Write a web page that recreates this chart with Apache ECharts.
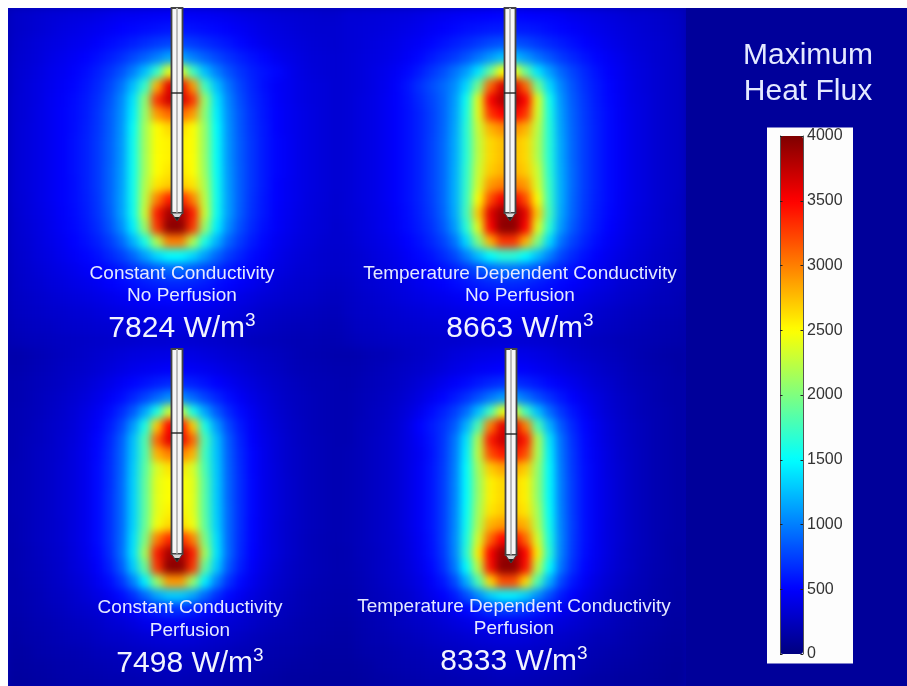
<!DOCTYPE html>
<html lang="en">
<head>
<meta charset="UTF-8">
<title>Maximum Heat Flux</title>
<script src="https://cdn.jsdelivr.net/npm/echarts@6/dist/echarts.min.js"></script>
<style>
  html, body { margin: 0; padding: 0; background: #fff; }
  #clip { position: absolute; left: 8px; top: 8px; width: 899px; height: 678px; overflow: hidden; }
  #heat { position: absolute; left: -8px; top: -8px; width: 930px; height: 720px; filter: blur(4.5px); }
  #front { position: absolute; left: 0; top: 0; width: 907px; height: 686px; }
</style>
</head>
<body>
<div id="clip"><div id="heat"></div></div>
<div id="front"></div>
<script>
// heat flux, one row per 14px, top row first
var heatTL = [
[280,300,320,340,350,370,380,400,420,440,450,460,470,480,480,470,460,450,430,410,390,370,350,340,330,320,310,310],
[280,300,330,350,380,400,420,440,470,500,520,540,560,580,580,560,540,520,490,460,430,400,380,360,340,330,320,320],
[290,320,350,380,400,430,450,490,530,570,620,670,720,760,760,720,670,620,570,520,470,430,400,380,360,340,330,320],
[300,330,360,400,430,460,500,550,610,680,780,880,1000,1150,1150,1000,880,780,690,620,560,510,450,410,380,350,340,330],
[310,340,380,420,450,490,540,610,700,820,1000,1250,1700,2400,2400,1750,1250,1000,820,700,620,560,520,440,390,360,340,330],
[310,350,390,430,470,510,570,650,770,950,1250,1700,2800,3600,3600,2900,1750,1250,950,760,640,550,480,440,400,370,350,330],
[320,350,390,440,480,530,590,680,820,1030,1400,2050,3300,3700,3700,3300,2100,1400,1020,800,660,570,490,440,400,370,350,330],
[320,350,400,440,490,540,600,700,850,1060,1450,2100,2900,3100,3100,2900,2050,1450,1050,830,680,580,500,450,410,380,350,330],
[320,360,400,440,490,540,610,710,860,1080,1520,2150,2500,2650,2650,2500,2100,1500,1070,840,690,590,500,450,410,380,350,330],
[320,360,400,440,490,550,620,720,870,1090,1550,2150,2500,2550,2550,2500,2100,1520,1080,850,700,590,510,460,410,380,350,330],
[320,360,400,440,490,550,620,720,870,1090,1550,2150,2500,2550,2550,2500,2100,1520,1080,850,700,590,510,460,410,380,350,330],
[320,360,400,440,490,550,620,720,880,1100,1550,2150,2500,2600,2600,2500,2120,1530,1090,860,700,590,510,460,410,380,350,330],
[320,360,400,440,490,540,620,720,880,1110,1560,2200,2600,2700,2700,2600,2180,1550,1100,860,700,590,500,450,410,380,350,330],
[320,350,400,440,490,540,610,710,880,1120,1560,2250,3000,3400,3400,3000,2250,1560,1110,860,690,580,500,450,410,370,350,320],
[310,350,390,430,480,530,600,700,860,1120,1550,2300,3400,3850,3850,3400,2300,1550,1110,850,680,580,490,440,400,370,340,320],
[300,340,380,420,470,520,580,670,820,1050,1450,2100,3300,3950,3950,3300,2100,1450,1040,800,650,550,480,430,390,360,340,310],
[300,330,370,410,450,500,550,620,730,900,1200,1600,2200,3000,3000,2200,1600,1200,890,720,600,520,450,410,370,350,320,310],
[290,320,360,390,430,470,510,560,640,740,900,1120,1350,1500,1500,1350,1120,900,730,630,540,480,420,380,350,330,310,300],
[280,310,340,370,400,430,470,500,540,600,680,760,840,900,900,840,760,680,590,530,480,430,390,360,330,320,300,290],
[270,300,320,350,370,400,420,450,490,520,560,600,630,650,650,630,600,550,510,470,430,390,350,330,310,300,280,270],
[260,280,300,320,340,360,380,400,420,450,470,490,510,520,520,500,480,460,430,400,370,340,320,300,290,280,260,250],
[250,270,280,300,310,330,340,360,380,390,410,420,430,440,440,420,410,390,370,350,330,300,280,270,260,250,240,230],
[230,250,260,270,290,300,310,320,330,340,350,360,370,380,380,360,350,340,320,300,290,270,250,240,230,230,220,210],
[210,230,240,250,260,270,280,290,300,300,310,320,320,330,330,320,310,300,280,270,250,240,230,220,210,210,200,200]
];
var heatTR = [
[340,340,350,360,370,380,400,420,440,460,480,490,500,510,510,500,490,480,460,430,410,390,370,350,330,320,300,280,260],
[340,350,360,370,390,410,430,460,490,520,550,570,590,600,600,590,570,540,510,480,450,420,400,370,350,330,310,290,270],
[340,350,370,390,410,440,470,510,560,610,660,720,780,820,820,770,710,650,600,550,500,460,420,390,360,340,320,300,270],
[340,360,380,400,430,470,520,590,660,730,830,960,1100,1250,1250,1100,950,830,720,640,570,510,460,420,380,350,320,300,280],
[340,360,390,420,460,520,600,700,800,950,1120,1400,1900,2500,2500,1900,1400,1120,900,760,650,560,490,440,390,360,330,300,280],
[340,360,390,430,480,570,680,790,900,1050,1350,1950,3100,3650,3650,3100,1950,1350,1020,820,680,590,510,450,400,360,330,300,280],
[340,370,400,440,490,560,650,760,880,1100,1550,2400,3500,3800,3800,3500,2400,1550,1080,850,710,600,520,460,400,370,330,300,280],
[340,370,400,440,490,550,630,740,880,1120,1600,2400,3300,3500,3500,3300,2350,1600,1110,870,720,610,530,460,410,370,330,300,280],
[340,370,400,440,490,550,630,740,890,1140,1650,2300,2800,2950,2950,2800,2250,1630,1130,880,730,620,530,470,410,370,330,300,280],
[340,370,400,440,490,550,630,750,900,1160,1650,2250,2650,2750,2750,2650,2200,1640,1150,890,730,620,530,470,410,370,330,300,280],
[340,370,400,440,490,550,630,750,900,1160,1650,2250,2650,2750,2750,2650,2200,1640,1150,890,730,620,530,470,410,370,330,300,280],
[340,370,400,440,490,550,630,750,900,1170,1680,2300,2700,2800,2800,2700,2300,1660,1160,900,730,620,530,470,410,370,330,300,280],
[340,370,400,440,490,550,630,750,900,1180,1700,2350,2900,3000,3000,2900,2350,1700,1170,900,730,620,530,470,410,370,330,300,280],
[340,370,400,440,490,550,630,740,900,1180,1720,2500,3200,3550,3550,3200,2500,1720,1170,890,720,610,530,460,410,370,330,300,270],
[340,360,400,430,480,540,620,720,880,1160,1750,2700,3600,3900,3900,3600,2700,1750,1150,880,710,600,520,460,400,360,330,290,270],
[330,360,390,430,470,530,600,690,840,1100,1650,2400,3500,3950,3950,3500,2400,1650,1090,840,680,580,500,440,390,350,320,290,270],
[320,350,380,410,450,500,560,640,750,950,1350,2000,2800,3300,3300,2800,2000,1350,940,750,630,540,470,420,370,340,310,280,260],
[310,330,360,390,420,470,520,570,660,780,1000,1250,1500,1650,1650,1500,1250,1000,780,650,560,490,430,390,350,320,290,270,250],
[300,320,340,370,400,440,470,510,560,620,710,800,880,940,940,880,800,710,620,550,490,440,400,360,330,300,280,260,240],
[280,310,330,350,370,400,430,460,490,530,570,610,640,660,660,640,600,560,520,480,440,400,370,330,310,290,260,240,230],
[270,290,310,330,350,370,390,410,430,450,480,500,510,530,530,510,490,470,440,410,380,350,330,300,280,260,240,230,210],
[260,280,290,310,320,340,350,370,380,400,410,430,440,450,450,430,420,400,380,360,340,310,290,270,250,240,220,210,200],
[240,260,270,280,300,310,320,330,340,350,360,370,380,390,390,370,360,350,330,310,300,280,260,250,230,220,200,190,180],
[220,240,250,260,270,280,290,300,310,310,320,330,330,340,340,330,320,310,290,280,260,250,240,220,210,200,190,180,170]
];
var heatBL = [
[170,190,210,230,250,270,290,310,330,350,370,380,390,400,400,390,370,350,330,310,290,270,250,230,210,200,190,180],
[180,200,220,240,260,280,300,330,360,390,420,440,460,480,480,460,440,410,380,350,320,290,270,240,220,210,200,190],
[190,210,230,250,270,300,330,370,410,460,510,560,610,650,650,610,560,500,450,400,360,320,290,260,240,220,210,200],
[190,210,240,260,290,320,360,410,470,540,640,760,900,1050,1050,900,760,640,540,460,400,350,310,270,250,230,210,200],
[200,220,240,270,300,340,390,450,540,660,850,1150,1600,2300,2300,1600,1150,850,650,530,440,370,320,280,250,230,210,200],
[200,220,250,280,310,350,410,480,600,770,1100,1600,2700,3500,3500,2700,1600,1100,770,590,470,390,340,290,260,230,210,200],
[200,230,250,280,320,360,420,510,640,860,1250,1800,3100,3600,3600,3100,1800,1250,850,630,490,410,350,300,260,240,220,200],
[200,230,260,290,320,370,430,520,660,880,1270,1800,2800,3000,3000,2800,1750,1270,870,650,510,420,350,300,270,240,220,200],
[210,230,260,290,330,370,430,530,670,890,1300,1850,2350,2600,2600,2350,1800,1290,880,660,510,420,360,300,270,240,220,200],
[210,230,260,290,330,370,430,530,670,900,1320,1880,2400,2500,2500,2400,1850,1300,890,670,520,420,360,310,270,240,220,200],
[210,230,260,290,330,370,430,530,680,900,1320,1880,2400,2500,2500,2400,1850,1300,890,670,520,420,360,310,270,240,220,200],
[210,230,260,290,330,370,430,530,680,900,1320,1880,2400,2550,2550,2400,1860,1310,900,670,520,420,360,310,270,240,220,200],
[200,230,260,290,320,370,430,530,680,900,1330,1900,2450,2650,2650,2450,1880,1320,900,670,510,420,350,300,270,240,220,200],
[200,230,260,290,320,370,430,530,680,910,1380,2000,3000,3350,3350,3000,2000,1380,900,660,510,410,350,300,260,230,210,200],
[190,220,250,280,310,360,420,510,660,920,1400,2150,3400,3850,3850,3400,2150,1400,910,650,500,410,350,300,260,230,210,190],
[190,220,240,270,300,350,400,480,620,850,1300,1900,3300,3950,3950,3300,1900,1300,840,610,470,390,330,280,250,230,210,190],
[180,210,230,260,290,330,370,440,540,700,1000,1450,2100,2900,2900,2100,1450,1000,690,530,430,360,310,270,240,220,200,190],
[180,200,220,250,270,300,340,390,450,540,680,900,1150,1300,1300,1150,900,680,530,440,380,330,280,250,220,200,190,180],
[170,190,210,230,250,280,300,330,370,420,480,550,620,680,680,620,550,480,410,360,320,290,260,230,210,190,180,170],
[160,180,200,210,230,250,270,290,320,340,370,410,440,460,460,440,400,370,330,310,280,250,230,210,190,180,170,160],
[150,170,180,200,210,230,240,260,280,290,310,330,340,350,350,340,320,300,280,260,240,220,200,190,180,170,160,150],
[140,150,170,180,190,200,210,230,240,250,260,270,280,290,290,280,270,250,240,220,210,190,180,170,160,150,140,140],
[130,140,150,160,170,180,190,200,210,220,230,240,240,250,250,240,230,220,210,200,180,170,160,150,140,140,130,130],
[120,130,140,150,160,170,170,180,190,190,200,210,210,220,220,210,200,190,180,170,160,150,140,130,130,120,120,120]
];
var heatBR = [
[180,190,210,220,240,260,280,300,330,360,380,400,410,420,420,410,390,370,340,310,290,270,250,230,210,190,170,160,150],
[190,200,220,240,260,280,300,330,360,400,430,460,480,500,500,480,450,420,390,360,330,300,270,250,220,200,180,170,150],
[190,210,230,250,270,300,340,380,430,480,530,590,640,680,680,630,580,520,470,420,370,330,300,260,230,210,190,170,160],
[200,220,240,260,290,330,380,440,510,590,690,810,960,1100,1100,950,800,680,580,490,420,370,320,280,250,220,190,170,160],
[200,220,250,270,310,360,430,530,620,740,930,1250,1750,2400,2400,1750,1250,920,710,570,470,390,330,290,250,220,200,180,160],
[200,230,250,280,320,390,500,590,690,850,1200,1800,3000,3600,3600,3000,1800,1200,840,640,510,420,350,300,260,230,200,180,160],
[200,230,260,290,330,390,470,570,700,950,1400,2200,3400,3700,3700,3400,2200,1400,930,680,530,430,360,310,260,230,200,180,160],
[210,230,260,290,330,390,450,560,710,970,1450,2250,3200,3400,3400,3200,2200,1450,950,700,540,440,370,310,270,230,200,180,160],
[210,230,260,290,330,390,460,570,720,990,1500,2150,2700,2850,2850,2700,2100,1490,970,710,550,450,370,320,270,230,200,180,160],
[210,230,260,290,330,390,460,570,730,1000,1500,2100,2550,2650,2650,2550,2080,1490,980,720,550,450,380,320,270,230,200,180,160],
[210,230,260,290,330,390,460,570,730,1000,1500,2100,2550,2650,2650,2550,2080,1490,980,720,550,450,380,320,270,230,200,180,160],
[210,230,260,290,330,390,460,570,730,1010,1520,2150,2600,2700,2700,2600,2150,1510,990,720,550,450,380,320,270,230,200,180,160],
[210,230,260,290,330,390,460,570,730,1020,1550,2200,2800,2900,2900,2800,2200,1550,1000,730,550,450,370,320,270,230,200,180,160],
[210,230,260,290,320,380,450,560,730,1030,1600,2350,3100,3500,3500,3100,2350,1600,1010,720,550,440,370,320,270,230,200,170,160],
[200,230,250,280,320,370,440,550,710,1020,1650,2550,3500,3900,3900,3500,2550,1650,1000,710,540,440,370,310,260,230,200,170,150],
[200,220,250,280,310,360,420,520,670,960,1500,2250,3450,3950,3950,3450,2250,1500,940,670,510,420,350,300,260,220,190,170,150],
[190,210,240,270,300,340,390,470,580,780,1180,1800,2650,3200,3200,2650,1800,1180,770,580,460,380,320,280,240,210,180,160,150],
[180,200,230,250,280,310,360,420,490,600,800,1050,1300,1450,1450,1300,1050,800,600,480,400,340,290,250,220,200,170,160,140],
[170,190,210,230,260,290,320,350,400,450,520,600,680,730,730,680,600,520,440,390,340,300,270,240,210,190,160,150,140],
[160,180,200,220,240,260,280,300,330,360,390,430,460,480,480,460,420,380,350,320,290,260,240,210,190,170,160,140,130],
[150,170,190,200,220,230,250,270,290,300,320,340,350,360,360,350,330,310,290,270,250,220,210,190,170,160,140,130,120],
[140,160,170,180,190,210,220,240,250,260,270,280,290,300,300,290,280,260,250,230,210,200,180,170,160,140,130,120,110],
[130,140,150,170,180,190,200,210,220,230,240,240,250,260,260,250,240,230,210,200,190,170,160,150,140,130,120,110,100],
[120,130,140,150,160,170,180,190,190,200,210,210,220,230,230,220,210,200,190,180,160,150,140,130,120,120,110,100,100]
];

var colorStops = ['#00007f', '#0000ff', '#007fff', '#00ffff', '#7fff7f', '#ffff00', '#ff7f00', '#ff0000', '#7f0000'];

var panelTitles = ['Constant Conductivity', 'Temperature Dependent Conductivity', 'Constant Conductivity', 'Temperature Dependent Conductivity'];
var panelSubs = ['No Perfusion', 'No Perfusion', 'Perfusion', 'Perfusion'];
var panelPeaks = ['7824', '8663', '7498', '8333'];

var font = '"Liberation Sans", Arial, sans-serif';
var textWhite = '#e4e9ff';

// panel geometry [left, top, width, height]
var boxes = [[8, 8, 334, 340], [342, 8, 344, 340], [8, 348, 334, 340], [342, 348, 344, 340]];
var heats = [heatTL, heatTR, heatBL, heatBR];

function indexList(n) {
  var out = [];
  for (var i = 0; i < n; i++) out.push(i);
  return out;
}

var heatOption = {
  backgroundColor: '#0000b0',
  animation: false,
  grid: [], xAxis: [], yAxis: [], series: [],
  visualMap: { show: false, min: 0, max: 4000, inRange: { color: colorStops } }
};
heats.forEach(function (m, i) {
  var b = boxes[i], data = [];
  m.forEach(function (row, r) {
    row.forEach(function (v, c) { data.push([c, r, v]); });
  });
  heatOption.grid.push({ left: b[0], top: b[1], width: b[2], height: b[3] });
  heatOption.xAxis.push({ type: 'category', gridIndex: i, show: false, data: indexList(m[0].length) });
  heatOption.yAxis.push({ type: 'category', gridIndex: i, show: false, inverse: true, data: indexList(m.length) });
  heatOption.series.push({ type: 'heatmap', xAxisIndex: i, yAxisIndex: i, data: data, progressive: 0, silent: true });
});
echarts.init(document.getElementById('heat')).setOption(heatOption);

// probe drawn over each panel: centre x, top, joint y, tip y
var probes = [[177, 8, 93, 221], [510, 8, 93, 221], [177, 349, 433, 562], [511, 349, 434, 563]];

function probeShapes(p) {
  var x = p[0], top = p[1], joint = p[2], tip = p[3];
  var edge = '#444';
  return [
    { type: 'rect', shape: { x: x - 5.5, y: top, width: 11, height: tip - top - 8 }, style: { fill: '#f6f6f6', stroke: edge, lineWidth: 1.8 } },
    { type: 'rect', shape: { x: x - 1, y: top, width: 2, height: tip - top - 8 }, style: { fill: '#bcbcbc' } },
    { type: 'line', shape: { x1: x - 6, y1: joint, x2: x + 6, y2: joint }, style: { stroke: '#222', lineWidth: 1.4 } },
    { type: 'polygon', shape: { points: [[x - 5.5, tip - 8], [x + 5.5, tip - 8], [x, tip]] }, style: { fill: '#d8d8d8', stroke: edge, lineWidth: 1 } },
    { type: 'polygon', shape: { points: [[x - 2.5, tip - 4], [x + 2.5, tip - 4], [x, tip]] }, style: { fill: '#222' } }
  ];
}

// caption centres and y for each panel
var captionX = [182, 520, 190, 514];
var captionY = [[274, 296, 329], [274, 296, 329], [608, 631, 664], [607, 629, 662]];

var gfx = [
  { type: 'rect', z: 0, shape: { x: 686, y: 8, width: 221, height: 678 }, style: { fill: '#00009a' } },
  { type: 'rect', z: 0, shape: { x: 767, y: 127.5, width: 86, height: 536 }, style: { fill: '#fdfdfd' } },
  { type: 'text', z: 5, x: 808, y: 56, style: { text: 'Maximum', fill: textWhite, font: '30px ' + font, align: 'center', verticalAlign: 'middle' } },
  { type: 'text', z: 5, x: 808, y: 92, style: { text: 'Heat Flux', fill: textWhite, font: '30px ' + font, align: 'center', verticalAlign: 'middle' } }
];
probes.forEach(function (p) {
  probeShapes(p).forEach(function (s) { s.z = 3; gfx.push(s); });
});
panelTitles.forEach(function (t, i) {
  var x = captionX[i], y = captionY[i];
  gfx.push({ type: 'text', z: 5, x: x, y: y[0], style: { text: t, fill: textWhite, font: '19px ' + font, align: 'center', verticalAlign: 'middle' } });
  gfx.push({ type: 'text', z: 5, x: x, y: y[1], style: { text: panelSubs[i], fill: textWhite, font: '19px ' + font, align: 'center', verticalAlign: 'middle' } });
  gfx.push({
    type: 'text', z: 5, x: x, y: y[2],
    style: {
      text: '{a|' + panelPeaks[i] + ' W/m}{b|3}', align: 'center', verticalAlign: 'middle',
      rich: {
        a: { fill: '#f2f4ff', font: '30px ' + font, lineHeight: 36 },
        b: { fill: '#f2f4ff', font: '19px ' + font, verticalAlign: 'top' }
      }
    }
  });
});

var frontOption = {
  animation: false,
  graphic: { elements: gfx },
  grid: { left: 780, top: 136, width: 23, height: 518, show: false },
  xAxis: { type: 'value', show: false },
  yAxis: [
    {
      type: 'value', position: 'right', min: 0, max: 4000, interval: 500, z: 6,
      axisLine: { show: true, onZero: false, lineStyle: { color: '#555', width: 1 } },
      axisTick: { show: true, inside: true, length: 2.5, lineStyle: { color: '#222' } },
      axisLabel: { color: '#333', fontSize: 16, fontFamily: font, margin: 4, formatter: function (v) { return String(v); } },
      splitLine: { show: false }
    },
    {
      type: 'value', position: 'left', min: 0, max: 4000, interval: 500, z: 6,
      axisLine: { show: true, onZero: false, lineStyle: { color: '#555', width: 1 } },
      axisTick: { show: true, inside: true, length: 2.5, lineStyle: { color: '#222' } },
      axisLabel: { show: false },
      splitLine: { show: false }
    }
  ],
  visualMap: {
    type: 'continuous', min: 0, max: 4000, left: 780, top: 136, itemWidth: 23, itemHeight: 518,
    calculable: false, text: null, padding: 0, seriesIndex: [], z: 2,
    inRange: { color: colorStops }, orient: 'vertical'
  },
  series: []
};
echarts.init(document.getElementById('front')).setOption(frontOption);
</script>
</body>
</html>
